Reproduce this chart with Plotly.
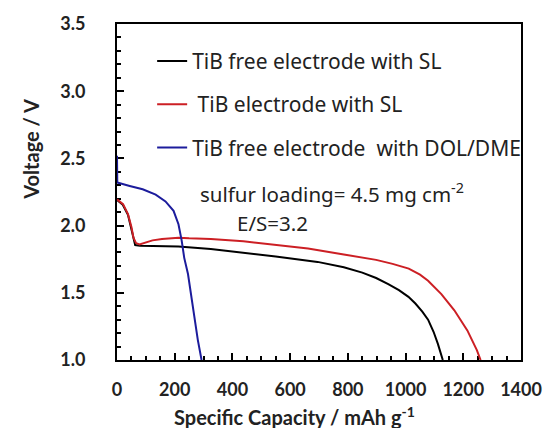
import plotly.graph_objects as go

# ---- data ----
black_cap = [0, 20, 38, 50, 57, 63, 80, 150, 213, 325, 438, 550, 695, 786, 850, 898, 940, 977, 1010, 1034, 1058, 1078, 1097, 1112, 1129]
black_v = [2.19, 2.155, 2.08, 1.98, 1.90, 1.855, 1.85, 1.848, 1.845, 1.826, 1.80, 1.77, 1.73, 1.69, 1.65, 1.61, 1.565, 1.52, 1.47, 1.42, 1.36, 1.30, 1.21, 1.12, 1.0]

red_cap = [0, 21, 38, 50, 57, 66, 78, 100, 123, 156, 213, 250, 325, 438, 550, 662, 786, 898, 955, 1011, 1050, 1078, 1124, 1169, 1214, 1247, 1260]
red_v = [2.195, 2.16, 2.085, 1.99, 1.91, 1.87, 1.86, 1.875, 1.89, 1.90, 1.91, 1.905, 1.90, 1.883, 1.858, 1.83, 1.785, 1.745, 1.715, 1.68, 1.635, 1.59, 1.49, 1.37, 1.22, 1.074, 1.0]

blue_cap = [0, 1, 44, 89, 134, 168, 196, 213, 224, 233, 246, 263, 280, 293]
blue_v = [2.52, 2.32, 2.295, 2.27, 2.23, 2.18, 2.11, 2.01, 1.89, 1.76, 1.64, 1.39, 1.15, 1.0]

series_names = ["TiB free electrode with SL",
                "\u00a0TiB electrode with SL",
                "TiB free electrode\u00a0 with DOL/DME"]
series_colors = ["#000000", "#cc1f24", "#1c1c9c"]

x_ticks = [0, 200, 400, 600, 800, 1000, 1200, 1400]
y_ticks = [1.0, 1.5, 2.0, 2.5, 3.0, 3.5]

fig = go.Figure()
for i, (xs, ys) in enumerate([(black_cap, black_v), (red_cap, red_v), (blue_cap, blue_v)]):
    fig.add_trace(go.Scatter(x=xs, y=ys, mode="lines", name=series_names[i],
                             legendgroup=f"g{i}", cliponaxis=False,
                             line=dict(color=series_colors[i], width=2)))

tickfont = dict(family="Lato", size=18, color="#222222", weight="bold")

fig.update_layout(
    width=554, height=428,
    margin=dict(l=117, r=22, t=22, b=68),
    paper_bgcolor="white", plot_bgcolor="white",
    showlegend=True,
    legend=dict(x=0.087, y=0.95, xanchor="left", yanchor="top",
                bgcolor="rgba(0,0,0,0)", borderwidth=0,
                font=dict(family="Noto Sans", size=21, color="#222222"),
                tracegroupgap=13),
    xaxis=dict(range=[0, 1400], tickvals=x_ticks, ticktext=[str(v) for v in x_ticks],
               ticks="inside", ticklen=7, tickwidth=1.5, tickcolor="black",
               minor=dict(dtick=50, ticks="inside", ticklen=4, tickwidth=1.5, tickcolor="black"),
               showline=True, linewidth=2, linecolor="black", mirror=True,
               showgrid=False, zeroline=False, tickfont=tickfont,
               ticklabelstandoff=12, layer="below traces"),
    yaxis=dict(range=[1.0, 3.5], tickvals=y_ticks, ticktext=[f"{v:.1f}" for v in y_ticks],
               ticks="inside", ticklen=7, tickwidth=1.5, tickcolor="black",
               minor=dict(dtick=0.1, ticks="inside", ticklen=4, tickwidth=1.5, tickcolor="black"),
               showline=True, linewidth=2, linecolor="black", mirror=True,
               showgrid=False, zeroline=False, tickfont=tickfont,
               ticklabelstandoff=26, layer="below traces"),
)

titlefont = dict(family="Lato", size=20, color="#222222", weight="bold")
fig.add_annotation(text="Voltage / V", xref="paper", yref="paper", x=-0.212, y=0.627,
                   textangle=-90, showarrow=False, font=titlefont,
                   xanchor="center", yanchor="middle")
fig.add_annotation(text="Specific Capacity / mAh g<sup>-1</sup>", xref="paper", yref="paper",
                   x=0.4386, y=-0.168, showarrow=False, font=titlefont,
                   xanchor="center", yanchor="middle")

notefont = dict(family="Noto Sans", size=20.5, color="#222222")
fig.add_annotation(text="sulfur loading= 4.5 mg cm<sup>-2</sup>", xref="paper", yref="paper",
                   x=0.2, y=0.497, showarrow=False, font=notefont,
                   xanchor="left", yanchor="middle")
fig.add_annotation(text="E/S=3.2", xref="paper", yref="paper",
                   x=0.3855, y=0.408, showarrow=False, font=notefont,
                   xanchor="center", yanchor="middle")

fig.write_html("out.html")
